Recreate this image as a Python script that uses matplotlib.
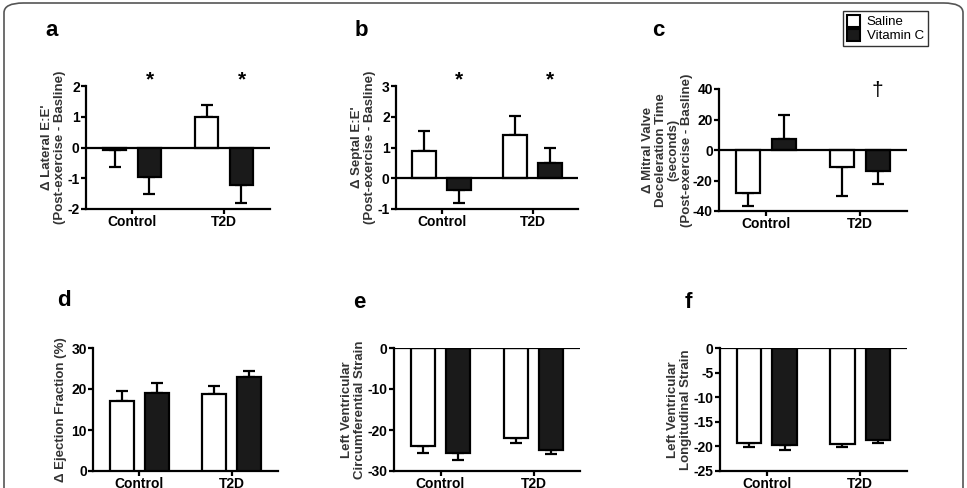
import matplotlib
matplotlib.use("Agg")
import matplotlib.pyplot as plt
from matplotlib.patches import FancyBboxPatch, Patch

plt.rcParams['font.family'] = ['Liberation Sans', 'DejaVu Sans']
plt.rcParams['axes.unicode_minus'] = False

# === Data ===
groups = ["Control", "T2D"]
series = ["Saline", "Vitamin C"]

lateral_saline = [-0.08, 1.0]
lateral_saline_err = [0.57, 0.38]
lateral_vitc = [-0.97, -1.22]
lateral_vitc_err = [0.55, 0.60]

septal_saline = [0.88, 1.42]
septal_saline_err = [0.65, 0.60]
septal_vitc = [-0.38, 0.5]
septal_vitc_err = [0.44, 0.48]

mitral_saline = [-28, -11]
mitral_saline_err = [9, 19]
mitral_vitc = [7.5, -14]
mitral_vitc_err = [15.5, 8]

ef_saline = [17.0, 18.7]
ef_saline_err = [2.5, 2.0]
ef_vitc = [19.0, 23.0]
ef_vitc_err = [2.5, 1.3]

circ_saline = [-24.0, -22.0]
circ_saline_err = [1.5, 1.2]
circ_vitc = [-25.5, -24.8]
circ_vitc_err = [1.7, 1.0]

long_saline = [-19.3, -19.6]
long_saline_err = [0.9, 0.6]
long_vitc = [-19.8, -18.8]
long_vitc_err = [0.9, 0.5]

W, H = 967, 488
fig = plt.figure(figsize=(W / 100, H / 100), dpi=100)

# rounded border around the whole figure
border = FancyBboxPatch((4 / W, -0.1), 959 / W, 1.1 - 3 / H,
                        boxstyle="round,pad=0,rounding_size=0.02",
                        transform=fig.transFigure, fill=False,
                        edgecolor="#555555", linewidth=1.2)
fig.patches.append(border)

BAR_W = 0.26
OFF = 0.19
LW = 1.6


def make_axes(left, top, right, bottom):
    return fig.add_axes([left / W, 1 - bottom / H, (right - left) / W, (bottom - top) / H])


def draw_panel(rect, sal, sal_err, vit, vit_err, ylim, yticks, ylabel, labelpad=1):
    ax = make_axes(*rect)
    for i in range(len(groups)):
        for val, err, dx, color in [(sal[i], sal_err[i], -OFF, "white"),
                                    (vit[i], vit_err[i], OFF, "#1a1a1a")]:
            x = i + dx
            yerr = [[err], [0]] if val < 0 else [[0], [err]]
            ax.errorbar(x, val, yerr=yerr, fmt="none", ecolor="black",
                        elinewidth=LW, capsize=4.5, capthick=LW, zorder=2)
            ax.bar(x, val, width=BAR_W, color=color, edgecolor="black",
                   linewidth=LW, zorder=3)
    ax.set_xlim(-0.5, 1.5)
    ax.set_ylim(*ylim)
    ax.set_yticks(yticks)
    ax.set_xticks(range(len(groups)))
    ax.set_xticklabels(groups, fontsize=10, fontweight="bold")
    for t in ax.get_yticklabels():
        t.set_fontweight("bold")
        t.set_fontsize(10)
    if ylim[0] < 0 < ylim[1] or ylim[1] == 0:
        ax.axhline(0, color="black", linewidth=LW, zorder=4)
    for s in ["top", "right"]:
        ax.spines[s].set_visible(False)
    for s in ["left", "bottom"]:
        ax.spines[s].set_linewidth(LW)
    ax.tick_params(axis="both", width=LW, length=3.5, pad=1)
    ax.set_ylabel(ylabel, fontsize=9.5, fontweight="bold", color="#333333",
                  labelpad=labelpad, linespacing=1.1)
    ax.patch.set_alpha(0)
    return ax


ax_a = draw_panel((86, 86, 270, 209), lateral_saline, lateral_saline_err,
                  lateral_vitc, lateral_vitc_err, (-2, 2), [-2, -1, 0, 1, 2],
                  "\u0394 Lateral E:E'\n(Post-exercise - Basline)")
ax_b = draw_panel((396, 86, 578, 209), septal_saline, septal_saline_err,
                  septal_vitc, septal_vitc_err, (-1, 3), [-1, 0, 1, 2, 3],
                  "\u0394 Septal E:E'\n(Post-exercise - Basline)")
ax_c = draw_panel((719, 89, 907, 211), mitral_saline, mitral_saline_err,
                  mitral_vitc, mitral_vitc_err, (-40, 40), [-40, -20, 0, 20, 40],
                  "\u0394 Mitral Valve\nDeceleration Time\n(seconds)\n(Post-exercise - Basline)",
                  labelpad=0)
ax_d = draw_panel((93, 348, 278, 471), ef_saline, ef_saline_err,
                  ef_vitc, ef_vitc_err, (0, 30), [0, 10, 20, 30],
                  "\u0394 Ejection Fraction (%)", labelpad=3)
ax_e = draw_panel((394, 348, 580, 471), circ_saline, circ_saline_err,
                  circ_vitc, circ_vitc_err, (-30, 0), [-30, -20, -10, 0],
                  "Left Ventricular\nCircumferential Strain")
ax_f = draw_panel((720, 348, 907, 471), long_saline, long_saline_err,
                  long_vitc, long_vitc_err, (-25, 0), [-25, -20, -15, -10, -5, 0],
                  "Left Ventricular\nLongitudinal Strain")

# significance markers
for ax, y in [(ax_a, 2.2), (ax_b, 3.2)]:
    for i in range(len(groups)):
        ax.text(i + OFF, y, "*", ha="center", va="center", fontsize=15,
                fontweight="bold", clip_on=False)
ax_c.text(1 + OFF, 39, "\u2020", ha="center", va="center", fontsize=15, clip_on=False)

# panel letters
for letter, x, y in [("a", 45, 31), ("b", 355, 31), ("c", 652, 31),
                     ("d", 57, 301), ("e", 353, 302), ("f", 685, 302)]:
    fig.text(x / W, 1 - y / H, letter, fontsize=16, fontweight="bold", va="center")

# legend
handles = [Patch(facecolor="white", edgecolor="black", linewidth=1.5),
           Patch(facecolor="#1a1a1a", edgecolor="black", linewidth=1.5)]
leg = fig.legend(handles, series, loc="upper left",
                 bbox_to_anchor=(843 / W, 1 - 11 / H), fontsize=9.5,
                 frameon=True, fancybox=False, handlelength=1.0, handleheight=1.0,
                 handletextpad=0.5, borderpad=0.3, labelspacing=0.05,
                 borderaxespad=0)
leg.get_frame().set_edgecolor("black")
leg.get_frame().set_linewidth(1.0)

fig.savefig("out.png", dpi=100)
